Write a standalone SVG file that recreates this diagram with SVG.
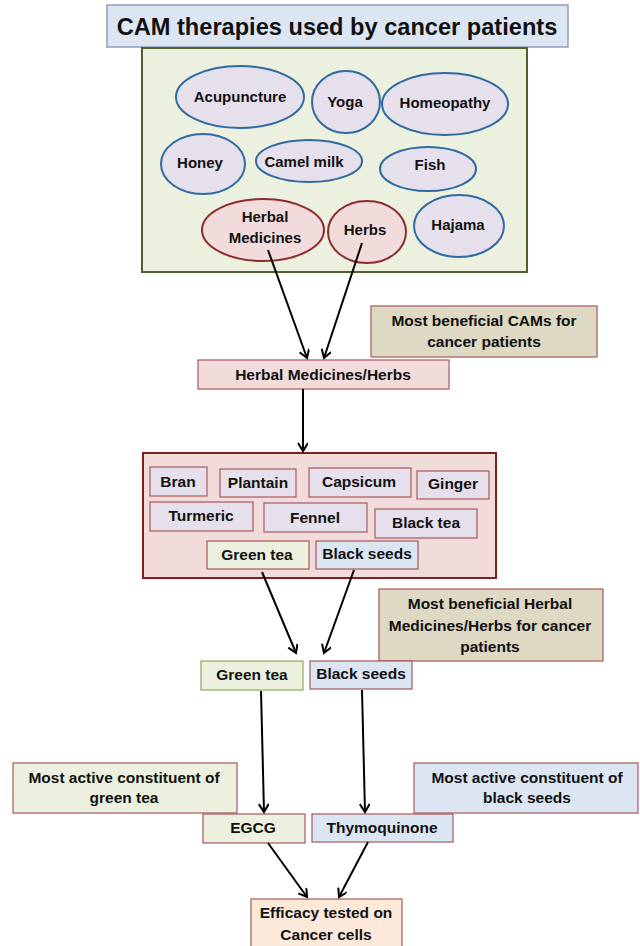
<svg xmlns="http://www.w3.org/2000/svg" width="640" height="946" viewBox="0 0 640 946">
<defs>
<style>
text{font-family:"Liberation Sans",Arial,sans-serif;font-weight:bold;fill:#111;text-anchor:middle;font-size:15.5px}
.el{font-size:15px}
.title{font-size:23.6px}
.ebl{fill:#e5e0ec;stroke:#2f6aa0;stroke-width:2}
.erd{fill:#f2dcdb;stroke:#8c2d2b;stroke-width:2}
.bx{stroke:#a8585a;stroke-width:1.2}
.pink{fill:#f2dcdb}
.lav{fill:#e5e0ec}
.grn{fill:#ebf1de}
.blu{fill:#dce6f2}
.tan{fill:#ddd9c3}
.pch{fill:#fde9d9}
.arr{stroke:#000;stroke-width:2;fill:none;marker-end:url(#ah)}
</style>
<marker id="ah" markerWidth="12" markerHeight="12" refX="9" refY="5" orient="auto" markerUnits="userSpaceOnUse">
<path d="M1,0 L9,5 L1,10" fill="none" stroke="#000" stroke-width="2"/>
</marker>
</defs>
<rect width="640" height="946" fill="#fff"/>

<g id="title">
<rect x="107" y="5" width="461" height="42" fill="#dce6f2" stroke="#8e9fbb" stroke-width="1.5"/>
<text class="title" x="337" y="35">CAM therapies used by cancer patients</text>
</g>

<g id="cam-box">
<rect x="142" y="48" width="385" height="224" fill="#ebf1de" stroke="#4f6228" stroke-width="2"/>
</g>
<g id="acupuncture"><ellipse class="ebl" cx="240" cy="97" rx="64" ry="31"/><text class="el" x="240" y="102">Acupuncture</text></g>
<g id="yoga"><ellipse class="ebl" cx="346" cy="102" rx="34" ry="31"/><text class="el" x="345" y="107">Yoga</text></g>
<g id="homeopathy"><ellipse class="ebl" cx="445" cy="104" rx="63" ry="31"/><text class="el" x="445" y="108">Homeopathy</text></g>
<g id="honey"><ellipse class="ebl" cx="203" cy="164" rx="42" ry="30"/><text class="el" x="200" y="168">Honey</text></g>
<g id="camel-milk"><ellipse class="ebl" cx="309" cy="161" rx="53" ry="21"/><text class="el" x="304" y="167">Camel milk</text></g>
<g id="fish"><ellipse class="ebl" cx="428" cy="169" rx="48" ry="22"/><text class="el" x="430" y="170">Fish</text></g>
<g id="herbal-medicines"><ellipse class="erd" cx="263" cy="230" rx="61" ry="31"/><text class="el" x="265" y="222">Herbal</text><text class="el" x="265" y="243">Medicines</text></g>
<g id="herbs"><ellipse class="erd" cx="367" cy="232" rx="39" ry="31"/><text class="el" x="365" y="235">Herbs</text></g>
<g id="hajama"><ellipse class="ebl" cx="459" cy="226" rx="45" ry="31"/><text class="el" x="458" y="230">Hajama</text></g>

<g id="hm-herbs"><rect class="bx pink" x="198" y="360" width="251" height="29"/><text x="323" y="380">Herbal Medicines/Herbs</text></g>
<g id="note-cams"><rect class="bx tan" x="371" y="306" width="226" height="51"/><text x="484" y="326">Most beneficial CAMs for</text><text x="484" y="347">cancer patients</text></g>

<g id="herb-box"><rect x="143" y="453" width="353" height="125" fill="#f2dcdb" stroke="#7f1f1f" stroke-width="2"/></g>
<g id="bran"><rect class="bx lav" x="150" y="467" width="57" height="29"/><text x="178" y="487">Bran</text></g>
<g id="plantain"><rect class="bx lav" x="220" y="469" width="76" height="28"/><text x="258" y="488">Plantain</text></g>
<g id="capsicum"><rect class="bx lav" x="309" y="468" width="102" height="29"/><text x="359" y="487">Capsicum</text></g>
<g id="ginger"><rect class="bx lav" x="417" y="471" width="72" height="28"/><text x="453" y="489">Ginger</text></g>
<g id="turmeric"><rect class="bx lav" x="150" y="502" width="103" height="29"/><text x="201" y="521">Turmeric</text></g>
<g id="fennel"><rect class="bx lav" x="264" y="503" width="103" height="29"/><text x="315" y="523">Fennel</text></g>
<g id="black-tea"><rect class="bx lav" x="375" y="509" width="102" height="29"/><text x="426" y="528">Black tea</text></g>
<g id="green-tea-1"><rect class="bx grn" x="207" y="541" width="102" height="28"/><text x="257" y="560">Green tea</text></g>
<g id="black-seeds-1"><rect class="bx blu" x="316" y="541" width="102" height="28"/><text x="367" y="559">Black seeds</text></g>

<g id="note-herbs"><rect class="bx tan" x="379" y="589" width="224" height="72"/><text x="490" y="609">Most beneficial Herbal</text><text x="490" y="631">Medicines/Herbs for cancer</text><text x="490" y="652">patients</text></g>
<g id="green-tea-2"><rect x="201" y="661" width="102" height="29" fill="#ebf1de" stroke="#8ea85c" stroke-width="1.2"/><text x="252" y="680">Green tea</text></g>
<g id="black-seeds-2"><rect class="bx blu" x="310" y="661" width="102" height="28"/><text x="361" y="679">Black seeds</text></g>

<g id="note-green"><rect class="bx grn" x="13" y="763" width="224" height="50"/><text x="124" y="783">Most active constituent of</text><text x="124" y="803">green tea</text></g>
<g id="note-black"><rect class="bx blu" x="414" y="763" width="224" height="50"/><text x="527" y="783">Most active constituent of</text><text x="527" y="803">black seeds</text></g>
<g id="egcg"><rect class="bx grn" x="203" y="814" width="102" height="29"/><text x="253" y="833">EGCG</text></g>
<g id="thymoquinone"><rect class="bx blu" x="312" y="814" width="141" height="28"/><text x="382" y="833">Thymoquinone</text></g>
<g id="efficacy"><rect class="bx pch" x="251" y="899" width="151" height="52"/><text x="326" y="918">Efficacy tested on</text><text x="326" y="940">Cancer cells</text></g>

<g id="connectors">
<line class="arr" x1="268" y1="250" x2="307" y2="358"/>
<line class="arr" x1="362" y1="243" x2="324" y2="358"/>
<line class="arr" x1="303" y1="389" x2="303" y2="451"/>
<line class="arr" x1="262" y1="572" x2="296" y2="653"/>
<line class="arr" x1="354" y1="570" x2="324" y2="653"/>
<line class="arr" x1="261" y1="691" x2="264" y2="812"/>
<line class="arr" x1="362" y1="690" x2="365" y2="812"/>
<line class="arr" x1="268" y1="843" x2="307" y2="897"/>
<line class="arr" x1="368" y1="842" x2="339" y2="897"/>
</g>
</svg>
